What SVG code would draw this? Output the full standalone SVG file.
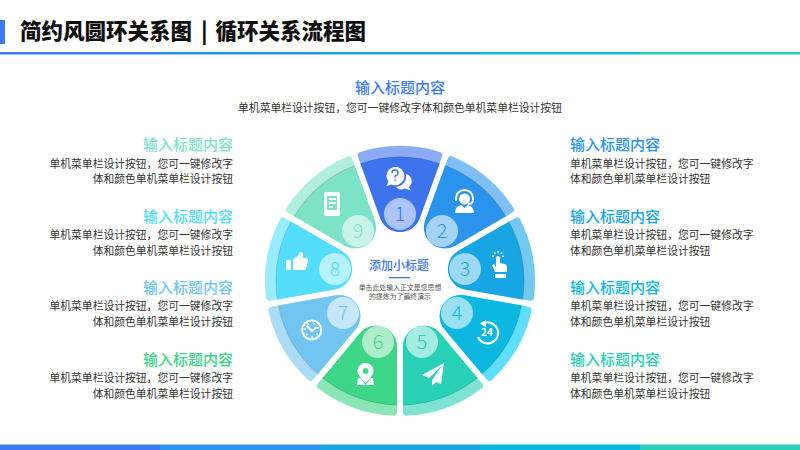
<svg xmlns="http://www.w3.org/2000/svg" width="800" height="450" viewBox="0 0 800 450">
<defs>
<path id="outer" d="M-19.74,-62.85L-41.9,-124.1Q-43.3,-127.9 -40.4,-128.8A135,135 0 0 1 40.4,-128.8Q43.3,-127.9 41.9,-124.1L19.74,-62.85A21,21 0 0 1 -19.74,-62.85Z"/>
<path id="inner" d="M-19.74,-62.85L-39.55,-117.56A124,124 0 0 1 39.55,-117.56L19.74,-62.85A21,21 0 0 1 -19.74,-62.85Z"/>
<path id="edge" d="M-39.55,-117.56A124,124 0 0 1 39.55,-117.56"/>
</defs>
<style>
text{font-family:"Noto Sans CJK SC","Noto Sans",sans-serif}
.h{font-size:15px;font-weight:500}
.b{font-size:10.8px;fill:#333}
.n{font-size:19.500px;text-anchor:middle;font-weight:300}
.band{opacity:.6}
.edge{fill:none;stroke:#000;stroke-opacity:.12;stroke-width:1}
.num{fill:#fff;fill-opacity:.58}
.ic{fill:#fff}
.ics{fill:none;stroke:#fff;stroke-width:2}
.r{text-anchor:end}
.m{text-anchor:middle}
.c1{fill:#3d7bf5}.c2{fill:#2a94ec}.c3{fill:#18a5e3}.c4{fill:#0cb8df}.c5{fill:#28d0b5}
.l{opacity:.5}
</style>
<rect width="800" height="450" fill="#fff"/>
<g id="header">
<rect x="0" y="20" width="5" height="24" class="c1"/>
<text x="20" y="39" font-size="21.500" font-weight="900" fill="#111">简约风圆环关系图<tspan dx="4" font-weight="900"> | </tspan><tspan dx="3">循环关系流程图</tspan></text>
<rect x="0" y="52" width="160" height="2" class="c1"/><rect x="160" y="52" width="160" height="2" class="c2"/><rect x="320" y="52" width="160" height="2" class="c3"/><rect x="480" y="52" width="160" height="2" class="c4"/><rect x="640" y="52" width="160" height="2" class="c5"/>
<rect x="0" y="54" width="160" height="1" class="c1 l"/><rect x="160" y="54" width="160" height="1" class="c2 l"/><rect x="320" y="54" width="160" height="1" class="c3 l"/><rect x="480" y="54" width="160" height="1" class="c4 l"/><rect x="640" y="54" width="160" height="1" class="c5 l"/>
</g>
<g id="footer">
<rect x="0" y="444" width="160" height="1" class="c1 l"/><rect x="160" y="444" width="160" height="1" class="c2 l"/><rect x="320" y="444" width="160" height="1" class="c3 l"/><rect x="480" y="444" width="160" height="1" class="c4 l"/><rect x="640" y="444" width="160" height="1" class="c5 l"/>
<rect x="0" y="445" width="160" height="5" class="c1"/><rect x="160" y="445" width="160" height="5" class="c2"/><rect x="320" y="445" width="160" height="5" class="c3"/><rect x="480" y="445" width="160" height="5" class="c4"/><rect x="640" y="445" width="160" height="5" class="c5"/>
</g>
<g id="top-text">
<text x="400" y="92.500" class="h m" fill="#3d7bf0">输入标题内容</text>
<text x="400" y="112" class="b m">单机菜单栏设计按钮，您可一键修改字体和颜色单机菜单栏设计按钮</text>
</g>
<g id="seg1"><g transform="translate(400 281)"><use href="#outer" class="band" fill="#3d74ee"/><use href="#inner" fill="#3d74ee"/><use href="#edge" class="edge"/></g><circle class="num" cx="400" cy="214" r="16"/><text x="400" y="221" class="n" fill="#3d74ee">1</text>
<path class="ic" d="M395,167a9,9 0 0 1 6.500,15.500a9,9 0 0 1 -10,2l-5,1.500 2,-4.500a9,9 0 0 1 6.500,-14.500z"/><path class="ic" d="M406,174a7.500,7.500 0 0 1 3,13l2,3.500 -6,-2a7.500,7.500 0 0 1 -9,-1.500a11,11 0 0 0 10,-13z"/><path d="M392,173q0,-3 3,-3t3,3q0,2 -2,2.500q-1,.5 -1,2M395,179.500v1.500" fill="none" stroke="#3d74ee" stroke-width="1.500"/></g>
<g id="seg2"><g transform="translate(400 281) rotate(40)"><use href="#outer" class="band" fill="#2a94ec"/><use href="#inner" fill="#2a94ec"/><use href="#edge" class="edge"/></g><circle class="num" cx="442" cy="231" r="16"/><text x="442" y="238" class="n" fill="#2a94ec">2</text>
<circle class="ic" cx="464.500" cy="199" r="5.500"/><path class="ics" stroke-width="1.500" d="M456,201v-3a8.500,8 0 0 1 17,0v2q0,4 -5,4"/><path class="ic" d="M455,213q.5,-7 6,-8l3.500,3 3.500,-3q5.500,1 6,8z"/></g>
<g id="seg3"><g transform="translate(400 281) rotate(80)"><use href="#outer" class="band" fill="#18a5e3"/><use href="#inner" fill="#18a5e3"/><use href="#edge" class="edge"/></g><circle class="num" cx="465" cy="269" r="16"/><text x="465" y="276" class="n" fill="#18a5e3">3</text>
<path class="ic" d="M496,258a2,2 0 0 1 4,0v5l5,1q2,1 2,3v5h-12l-3,-7 2,-1 2,3z"/><rect class="ic" x="495" y="274" width="11" height="4"/><path class="ics" stroke-width="1.500" stroke-dasharray="1.500 2" d="M493,257a5,5 0 0 1 10,0"/></g>
<g id="seg4"><g transform="translate(400 281) rotate(120)"><use href="#outer" fill="#5fdffb"/><use href="#inner" fill="#0cb8df"/><use href="#edge" class="edge"/></g><circle class="num" cx="457" cy="313" r="16"/><text x="457" y="320" class="n" fill="#0cb8df">4</text>
<path class="ics" d="M482,324a10.500,10.500 0 1 1 -4,13"/><path class="ic" d="M486,320l-6,3.500 6,4z"/><text x="487" y="336" text-anchor="middle" font-size="10" font-weight="700" fill="#fff">24</text></g>
<g id="seg5"><g transform="translate(400 281) rotate(160)"><use href="#outer" class="band" fill="#28d0b5"/><use href="#inner" fill="#28d0b5"/><use href="#edge" class="edge"/></g><circle class="num" cx="422" cy="342" r="16"/><text x="422" y="349" class="n" fill="#28d0b5">5</text>
<path class="ic" d="M444,363l-22,12 7,3 13,-12 -10,14v6l4,-4 5,2z"/></g>
<g id="seg6"><g transform="translate(400 281) rotate(200)"><use href="#outer" class="band" fill="#3dd587"/><use href="#inner" fill="#3dd587"/><use href="#edge" class="edge"/></g><circle class="num" cx="378" cy="342" r="16"/><text x="378" y="349" class="n" fill="#3dd587">6</text>
<path class="ic" fill-rule="evenodd" d="M365.500,363a8,8 0 0 1 8,8c0,5 -8,12 -8,12s-8,-7 -8,-12a8,8 0 0 1 8,-8zm0,5a3,3 0 1 0 0.010,0z"/><path class="ic" d="M358,378l-1,7h17l-1,-7 -2,0 -5.500,7 -5.500,-7z"/></g>
<g id="seg7"><g transform="translate(400 281) rotate(240)"><use href="#outer" class="band" fill="#72c5f0"/><use href="#inner" fill="#72c5f0"/><use href="#edge" class="edge"/></g><circle class="num" cx="343" cy="313" r="16"/><text x="343" y="320" class="n" fill="#72c5f0">7</text>
<circle class="ics" stroke-width="2.500" cx="311.700" cy="330" r="9.500"/><path class="ics" stroke-width="1.500" d="M306.500,325.500l5.500,5.500 5,-4"/><path class="ics" stroke-width="1.200" stroke-dasharray="1.500 4.500" d="M305,330a6.700,6.700 0 1 1 0,.01"/></g>
<g id="seg8"><g transform="translate(400 281) rotate(280)"><use href="#outer" class="band" fill="#55ddfd"/><use href="#inner" fill="#55ddfd"/><use href="#edge" class="edge"/></g><circle class="num" cx="335" cy="269" r="16"/><text x="335" y="276" class="n" fill="#55ddfd">8</text>
<rect class="ic" x="286" y="260" width="5" height="10"/><path class="ic" d="M293,259l5,-3 2,-4 3,1v5h4q1,0 1,2l-2,9q0,1 -2,1h-11z"/></g>
<g id="seg9"><g transform="translate(400 281) rotate(320)"><use href="#outer" class="band" fill="#7de2c8"/><use href="#inner" fill="#7de2c8"/><use href="#edge" class="edge"/></g><circle class="num" cx="358" cy="231" r="16"/><text x="358" y="238" class="n" fill="#7de2c8">9</text>
<path class="ic" fill-rule="evenodd" d="M326,192h12q2,0 2,2v20q0,2 -2,2h-12q-2,0 -2,-2v-20q0,-2 2,-2zm1,4v14h10v-14z"/><path class="ic" d="M329,198h7v2h-7zM329,202h7v2h-7zM329,206h4v2h-4zM331,212h3v2h-3z"/></g>
<g id="center">
<text x="399" y="269.500" class="m" font-size="12" font-weight="500" fill="#3d74ee">添加小标题</text>
<rect x="389" y="277" width="21" height="1.300" fill="#3d74ee"/>
<text x="400" y="289.500" class="m" font-size="6.900" fill="#555">单击此处输入正文是您思想</text>
<text x="400" y="299" class="m" font-size="6.900" fill="#555">的提炼为了最终演示</text>
</g>
<g id="left-1"><text x="233" y="150" class="h r" fill="#7de2c8">输入标题内容</text><text x="233" y="168" class="b r">单机菜单栏设计按钮，您可一键修改字</text><text x="233" y="183" class="b r">体和颜色单机菜单栏设计按钮</text></g>
<g id="left-2"><text x="233" y="221.500" class="h r" fill="#55ddfd">输入标题内容</text><text x="233" y="239" class="b r">单机菜单栏设计按钮，您可一键修改字</text><text x="233" y="255" class="b r">体和颜色单机菜单栏设计按钮</text></g>
<g id="left-3"><text x="233" y="293" class="h r" fill="#72c5f0">输入标题内容</text><text x="233" y="310" class="b r">单机菜单栏设计按钮，您可一键修改字</text><text x="233" y="326" class="b r">体和颜色单机菜单栏设计按钮</text></g>
<g id="left-4"><text x="233" y="365" class="h r" fill="#3dd587">输入标题内容</text><text x="233" y="382" class="b r">单机菜单栏设计按钮，您可一键修改字</text><text x="233" y="398" class="b r">体和颜色单机菜单栏设计按钮</text></g>
<g id="right-1"><text x="570" y="150" class="h" fill="#2a94ec">输入标题内容</text><text x="570" y="168" class="b">单机菜单栏设计按钮，您可一键修改字</text><text x="570" y="183" class="b">体和颜色单机菜单栏设计按钮</text></g>
<g id="right-2"><text x="570" y="221.500" class="h" fill="#18a5e3">输入标题内容</text><text x="570" y="239" class="b">单机菜单栏设计按钮，您可一键修改字</text><text x="570" y="255" class="b">体和颜色单机菜单栏设计按钮</text></g>
<g id="right-3"><text x="570" y="293" class="h" fill="#0cb8df">输入标题内容</text><text x="570" y="310" class="b">单机菜单栏设计按钮，您可一键修改字</text><text x="570" y="326" class="b">体和颜色单机菜单栏设计按钮</text></g>
<g id="right-4"><text x="570" y="365" class="h" fill="#28d0b5">输入标题内容</text><text x="570" y="382" class="b">单机菜单栏设计按钮，您可一键修改字</text><text x="570" y="398" class="b">体和颜色单机菜单栏设计按钮</text></g>
</svg>
